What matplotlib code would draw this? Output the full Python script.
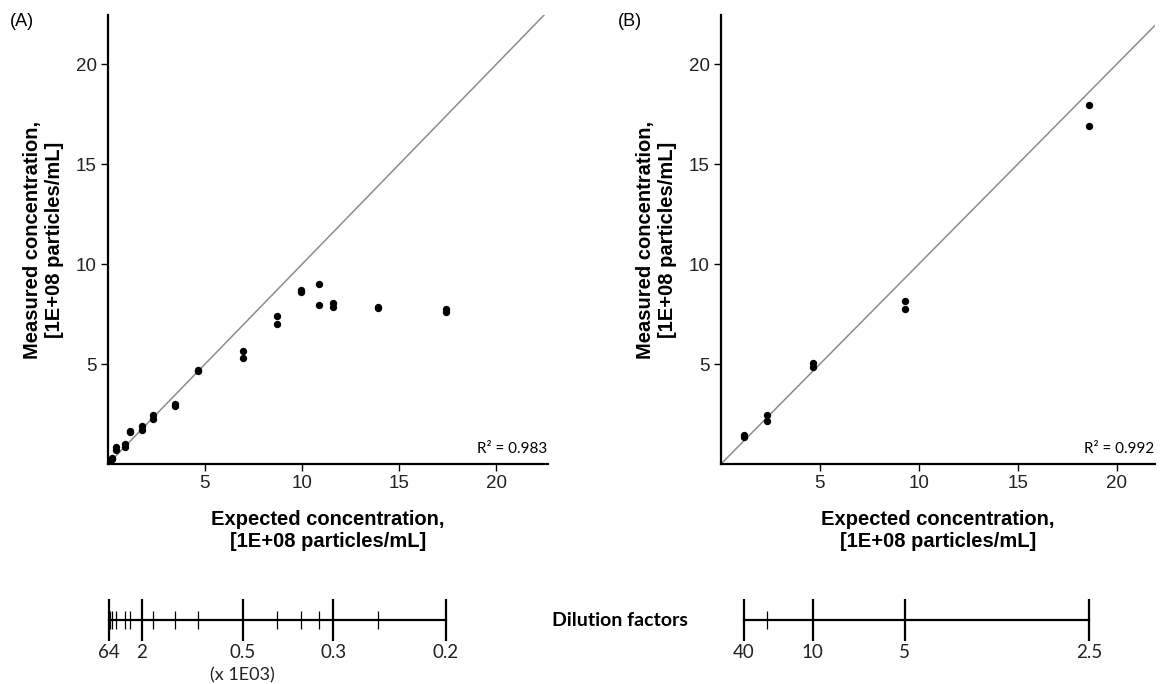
import matplotlib
matplotlib.use("Agg")
import matplotlib.pyplot as plt
from matplotlib.ticker import FixedLocator, NullFormatter

# ---------------- data ----------------
# Panel A: expected vs measured concentration (1E+08 particles/mL), duplicates per dilution
expected_a = [0.05, 0.05, 0.11, 0.11, 0.22, 0.22, 0.44, 0.44, 0.87, 0.87,
              1.16, 1.16, 1.74, 1.74, 2.32, 2.32, 3.48, 3.48, 4.64, 4.64,
              6.96, 6.96, 8.70, 8.70, 9.94, 9.94, 10.88, 10.88, 11.60, 11.60,
              13.92, 13.92, 17.40, 17.40]
measured_a = [0.08, 0.05, 0.15, 0.12, 0.30, 0.25, 0.85, 0.72, 1.03, 0.84,
              1.65, 1.60, 1.90, 1.72, 2.45, 2.27, 3.00, 2.90, 4.70, 4.66,
              5.67, 5.30, 7.42, 7.02, 8.73, 8.60, 9.02, 7.97, 8.08, 7.88,
              7.85, 7.80, 7.78, 7.62]
r2_a = "0.983"

# Panel B
expected_b = [1.16, 1.16, 2.33, 2.33, 4.65, 4.65, 9.30, 9.30, 18.60, 18.60]
measured_b = [1.45, 1.35, 2.45, 2.15, 5.07, 4.87, 8.15, 7.75, 17.95, 16.90]
r2_b = "0.992"

# Dilution factor scales (A in thousands)
stock_a = 3.48
dil_major_a = [64, 2, 0.5, 0.3, 0.2]
dil_major_labels_a = ["64", "2", "0.5", "0.3", "0.2"]
dil_minor_a = [32, 16, 8, 4, 3, 1.5, 1, 0.75, 0.4, 0.35, 0.32, 0.25]

stock_b = 46.5
dil_major_b = [40, 10, 5, 2.5]
dil_major_labels_b = ["40", "10", "5", "2.5"]
dil_minor_b = [20]

main_ticks = [5, 10, 15, 20]

# ---------------- style ----------------
W, H = 1160, 684
ARIAL = "Liberation Sans"
CAL = "Lato"
plt.rcParams["font.family"] = [ARIAL, "DejaVu Sans"]
fig = plt.figure(figsize=(W / 100, H / 100), dpi=100)


def fx(px):
    return px / W


def fy(px):
    return 1 - px / H


def main_axes(left_px, right_px, xlim, x, y, r2):
    ax = fig.add_axes([fx(left_px), fy(464.3), fx(right_px - left_px), (464.3 - 15) / H])
    ax.set_xlim(*xlim)
    ax.set_ylim(0, 22.45)
    ax.axline((0, 0), slope=1, color="#8c8c8c", lw=1.1, zorder=1)
    ax.scatter(x, y, s=28, color="black", zorder=3, linewidths=0)
    for s in ["top", "right"]:
        ax.spines[s].set_visible(False)
    for s in ["left", "bottom"]:
        ax.spines[s].set_linewidth(1.6)
    ax.set_xticks(main_ticks)
    ax.set_yticks(main_ticks)
    ax.tick_params(direction="out", length=5, width=1.0, labelsize=13.5, pad=3,
                   labelcolor="#222222", labelfontfamily=ARIAL)
    ax.set_xlabel("Expected concentration,\n[1E+08 particles/mL]", fontsize=14.5,
                  fontweight="bold", family=ARIAL, labelpad=13, linespacing=1.2)
    ax.set_ylabel("Measured concentration,\n[1E+08 particles/mL]", fontsize=14.5,
                  fontweight="bold", family=ARIAL, labelpad=8, linespacing=1.2)
    ax.text(0.998, 0.018, "R² = " + r2, transform=ax.transAxes, ha="right",
            va="bottom", fontsize=11, family=CAL)
    return ax


ax_a = main_axes(107.7, 548, (0, 22.65), expected_a, measured_a, r2_a)
ax_b = main_axes(720.7, 1155, (0, 21.93), expected_b, measured_b, r2_b)

fig.text(fx(10), fy(22), "(A)", fontsize=13, family=ARIAL, va="center", ha="left")
fig.text(fx(618), fy(22), "(B)", fontsize=13, family=ARIAL, va="center", ha="left")


def dil_axes(main_ax, stock, majors, labels, minors):
    pos = main_ax.get_position()
    dax = fig.add_axes([pos.x0, fy(640), pos.width, 40 / H])
    dax.set_xlim(main_ax.get_xlim())
    dax.set_ylim(0, 1)
    dax.patch.set_visible(False)
    for s in ["top", "right", "left"]:
        dax.spines[s].set_visible(False)
    dax.spines["bottom"].set_position(("axes", 0.5))
    dax.spines["bottom"].set_linewidth(1.6)
    maj_pos = [stock / d for d in majors]
    min_pos = [stock / d for d in minors]
    dax.spines["bottom"].set_bounds(min(maj_pos), max(maj_pos))
    dax.xaxis.set_major_locator(FixedLocator(maj_pos))
    dax.xaxis.set_minor_locator(FixedLocator(min_pos))
    dax.set_xticklabels(labels)
    dax.xaxis.set_minor_formatter(NullFormatter())
    dax.set_yticks([])
    dax.tick_params(axis="x", which="major", direction="inout", length=30, width=1.6,
                    labelsize=13.5, pad=2, labelcolor="#222222", labelfontfamily=CAL)
    dax.tick_params(axis="x", which="minor", direction="inout", length=13, width=0.9)
    return dax


dax_a = dil_axes(ax_a, stock_a, dil_major_a, dil_major_labels_a, dil_minor_a)
dax_b = dil_axes(ax_b, stock_b, dil_major_b, dil_major_labels_b, dil_minor_b)

fig.text(fx(242), fy(675), "(x 1E03)", fontsize=13, family=CAL, ha="center",
         va="center", color="#222222")
fig.text(fx(620), fy(620), "Dilution factors", fontsize=14, family=CAL,
         fontweight="bold", ha="center", va="center")

fig.savefig("out.png", dpi=100)
